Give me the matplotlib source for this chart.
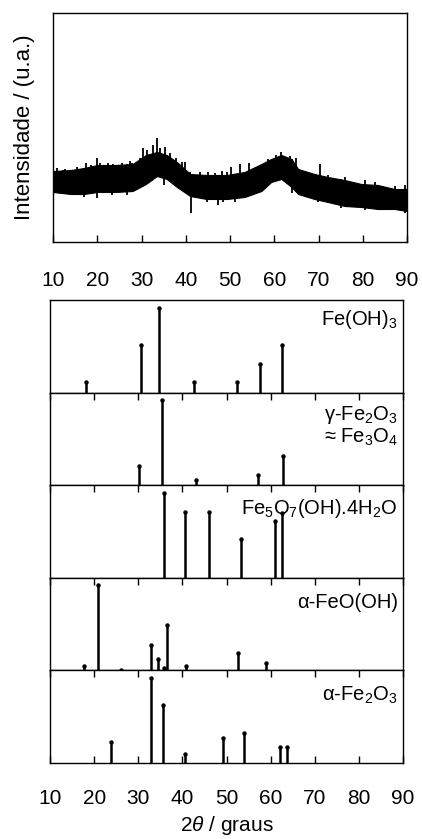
import matplotlib.pyplot as plt
import numpy as np

plt.rcParams.update({
    "font.family": ["Liberation Sans", "DejaVu Sans"],
    "mathtext.fontset": "custom",
    "mathtext.rm": "Liberation Sans",
    "mathtext.it": "Liberation Sans:italic",
    "font.size": 15,
    "axes.linewidth": 1.0,
})

# Measured pattern (top panel): the noisy trace read as upper/lower envelope
TRACE_2T = [10, 14, 17, 20, 24, 28, 31, 33.5, 35.7, 38, 41, 44.7, 49.3, 53.3,
            57.1, 59.3, 61.6, 63.9, 65.4, 69.1, 72.1, 75.9, 79.7, 83.4, 87.2, 90]
TRACE_HI = [71, 72, 74, 77, 77, 78, 87, 90, 87, 80, 68, 67, 67, 70,
            78, 83, 87, 83, 73, 68, 65, 62, 58, 57, 53, 53]
TRACE_LO = [50, 48, 48, 50, 50, 51, 58, 66, 63, 55, 46, 43, 43, 45,
            51, 60, 63, 55, 48, 43, 40, 36, 35, 33, 33, 31]

# spikes sticking out of the band
SPIKE_UP_2T = [10.8, 12.7, 15.4, 17.5, 18.7, 19.9, 20.6, 22.5, 23.6, 25.5, 27.4,
               27.8, 29.7, 30.3, 31.3, 31.9, 32.7, 33.4, 34.2, 35.3, 36.4, 37.8,
               39.1, 39.8, 41.0, 43.2, 45.1, 46.6, 48.1, 49.3, 50.3, 52.2, 54.4,
               58.6, 60.5, 61.6, 63.5, 65.0, 66.9, 70.3, 72.1, 75.9, 80.4, 82.7,
               87.2, 89.5]
SPIKE_UP_Y = [73.7, 72.7, 74.7, 78.7, 77, 83.7, 78.7, 78.7, 77.7, 79.3, 81.3,
              78.7, 83.7, 93.7, 92, 87, 97, 103.7, 93.7, 95.3, 88.7, 83.7,
              80.3, 80.3, 70.3, 70.3, 70.3, 68.7, 71.3, 70.3, 75.3, 78, 78.7,
              82.7, 87, 90.3, 86, 83.7, 70.3, 78, 67, 65.3, 62, 60.3,
              56, 57]
SPIKE_DN_2T = [12.3, 16.9, 19.9, 23.3, 26.8, 35.1, 41.2, 44.7, 47.3, 48.5,
               51.1, 63.9, 69.9, 75.1, 80.4, 84.1, 89.5]
SPIKE_DN_Y = [48.7, 45.3, 43.7, 47, 47, 57, 28.7, 40.3, 37, 40.3,
              40.3, 48.7, 40.3, 33.7, 32, 32, 28.7]

# Reference patterns (relative intensity, strongest = 100)
FEOH3_2T = [18.05, 30.6, 34.7, 42.7, 52.4, 57.5, 62.5]
FEOH3_I = [13, 56, 100, 13, 13, 34, 56]

MAGH_2T = [30.1, 35.4, 43.1, 57.1, 62.8]
MAGH_I = [23, 100, 6, 12, 34]

FERRI_2T = [35.8, 40.5, 46.0, 53.2, 61.1, 62.6]
FERRI_I = [100, 78, 78, 46, 67, 76]

GOET_2T = [17.7, 20.9, 26.0, 32.9, 34.4, 35.9, 36.5, 40.9, 52.7, 58.9]
GOET_I = [5, 100, 1, 30, 13, 3, 54, 5, 20, 8.5]

HEM_2T = [23.9, 32.9, 35.5, 40.5, 49.3, 54.0, 62.2, 63.7]
HEM_I = [25, 100, 68, 11, 29, 35, 19, 19]

PHASES = [
    (r"Fe(OH)$_3$", FEOH3_2T, FEOH3_I, 0.79),
    ("\u03b3-Fe$_2$O$_3$\n\u2248 Fe$_3$O$_4$", MAGH_2T, MAGH_I, 0.64),
    (r"Fe$_5$O$_7$(OH).4H$_2$O", FERRI_2T, FERRI_I, 0.75),
    ("\u03b1-FeO(OH)", GOET_2T, GOET_I, 0.73),
    ("\u03b1-Fe$_2$O$_3$", HEM_2T, HEM_I, 0.73),
]

XTICKS = [10, 20, 30, 40, 50, 60, 70, 80, 90]


def main():
    fig = plt.figure(figsize=(4.22, 8.39), dpi=100)

    # top: measured sample
    ax = fig.add_axes([53 / 422, 1 - 242 / 839, 354 / 422, 229 / 839])
    ax.fill_between(TRACE_2T, TRACE_LO, TRACE_HI, color="black", lw=0.8)
    up_base = np.interp(SPIKE_UP_2T, TRACE_2T, TRACE_LO)
    ax.vlines(SPIKE_UP_2T, up_base, SPIKE_UP_Y, color="black", lw=1.3)
    dn_top = np.interp(SPIKE_DN_2T, TRACE_2T, TRACE_HI)
    ax.vlines(SPIKE_DN_2T, SPIKE_DN_Y, dn_top, color="black", lw=1.3)
    ax.set_xlim(10, 90)
    ax.set_ylim(0, 229)
    ax.set_xticks(XTICKS)
    ax.set_yticks([])
    ax.tick_params(axis="x", direction="in", length=5, width=1, pad=21)
    ax.set_ylabel("Intensidade / (u.a.)", fontsize=16, labelpad=13)

    # bottom: reference stick patterns
    gs = fig.add_gridspec(5, 1, left=50 / 422, right=403 / 422,
                          top=1 - 300 / 839, bottom=1 - 763 / 839, hspace=0)
    n = len(PHASES)
    for i, (label, pos, inten, ty) in enumerate(PHASES):
        ax = fig.add_subplot(gs[i])
        ax.vlines(pos, 0, inten, color="black", lw=1.8)
        ax.plot(pos, inten, "o", color="black", ms=3.2, mew=0)
        ax.set_xlim(10, 90)
        ax.set_ylim(0, 109)
        ax.set_yticks([])
        ax.set_xticks(XTICKS)
        last = i == n - 1
        ax.tick_params(axis="x", direction="in", length=5, width=1,
                       top=(i > 0), bottom=last, labelbottom=last, pad=19)
        ax.text(0.985, ty, label, transform=ax.transAxes, ha="right",
                va="center", fontsize=14.5, linespacing=1.0)
        if last:
            ax.set_xlabel(r"2$\theta$ / graus", fontsize=15, labelpad=4)

    fig.savefig("out.png", dpi=100)
    plt.close(fig)


if __name__ == "__main__":
    main()
